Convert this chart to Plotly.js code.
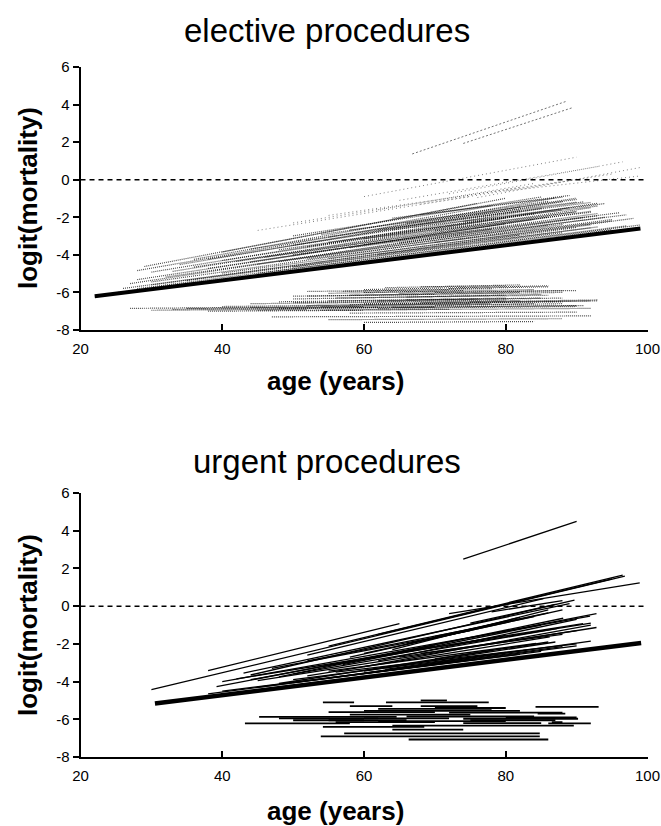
<!DOCTYPE html>
<html>
<head>
<meta charset="utf-8">
<script src="https://cdn.plot.ly/plotly-3.0.1.min.js"></script>
<style>html,body{margin:0;padding:0;background:#fff;}#chart{width:661px;height:826px;}</style>
</head>
<body>
<div id="chart"></div>
<script>
// ---------- axis ticks ----------
const ageTicks = [20, 40, 60, 80, 100];
const logitTicks = [-8, -6, -4, -2, 0, 2, 4, 6];

// ---------- ELECTIVE: reference (thick) line ----------
const eBaseAge = [22, 99];
const eBaseLogit = [-6.2, -2.6];

// ---------- ELECTIVE: upper fan of lines (start age, start logit, end age, end logit) ----------
const eUpA0 = [25, 28, 35, 26, 40, 30, 45, 32, 50, 28, 42, 36, 48, 30, 55, 38, 44, 28, 50, 29,
               45, 30, 52, 27, 60, 38, 46, 33, 55, 40, 62, 34, 58, 36, 64, 40,
               50, 55, 48, 58, 44, 60, 52, 64, 50, 66, 54, 68, 65, 62, 70, 70, 74];
const eUpY0 = [-6.01, -5.8, -5.37, -5.79, -4.97, -5.44, -4.49, -5.18, -3.99, -5.32, -4.35, -4.65, -3.73, -4.92, -3.05, -4.23, -3.69, -4.84, -2.99, -4.62,
               -4.98, -5.6, -4.22, -5.53, -3.45, -4.72, -4.12, -4.88, -3.33, -4.3, -2.65, -4.52, -2.68, -4.24, -2.05, -3.85,
               -4.65, -4.19, -4.36, -3.62, -4.37, -3.15, -3.56, -2.67, -3.49, -2.32, -2.92, -1.86, -3.36, -3.98, -3.34, -2.72, -2.24];
const eUpA1 = [95, 97, 92, 90, 98, 88, 94, 91, 93, 86, 90, 92, 89, 85, 91, 88, 90, 87, 85, 80,
               99, 82, 95, 78, 96, 84, 92, 80, 88, 93, 92, 82, 90, 78, 89, 76,
               88, 92, 86, 93, 80, 90, 84, 94, 82, 90, 86, 88, 97, 93, 95, 92, 93];
const eUpY1 = [-2.66, -2.46, -2.56, -2.54, -2.06, -2.38, -2.0, -2.01, -1.8, -1.98, -1.7, -1.49, -1.49, -1.53, -1.18, -1.17, -0.98, -0.97, -0.92, -0.99,
               -2.41, -2.94, -2.12, -2.63, -1.76, -2.12, -1.68, -2.04, -1.61, -1.25, -1.21, -1.45, -1.05, -1.39, -0.84, -1.26,
               -2.82, -2.4, -2.42, -1.92, -2.34, -1.7, -1.82, -1.27, -1.65, -1.2, -1.15, -0.93, -1.87, -2.51, -2.19, -1.73, -1.4];

// ---------- ELECTIVE: sparse faint lines above the band ----------
const eFaintA0 = [60, 72, 76, 65, 55, 50, 68, 80, 62, 45];
const eFaintY0 = [-0.9, -0.75, -0.95, -1.1, -1.9, -2.3, -1.3, -0.6, -1.6, -2.7];
const eFaintA1 = [90, 96.5, 99, 93, 88, 82, 95, 99, 84, 75];
const eFaintY1 = [1.2, 0.95, 0.65, 0.7, -0.1, -0.4, 0.3, 0.2, -0.2, -0.9];

// ---------- ELECTIVE: two highest lines ----------
const eTopA0 = [66.8, 74];
const eTopY0 = [1.37, 1.93];
const eTopA1 = [88.6, 89.3];
const eTopY1 = [4.18, 3.82];

// ---------- ELECTIVE: lower (nearly flat) lines ----------
const eLowA0 = [27, 33, 40, 44, 48, 50, 52, 55, 57, 60, 63, 48, 54, 58, 45, 62, 66, 55, 70, 47,
                55, 60, 38, 64, 50, 52, 68, 75, 30, 58, 50, 56, 60, 52, 65, 58, 62, 68, 44, 35,
                72, 54, 66, 70, 60];
const eLowY0 = [-6.85, -6.9, -6.75, -6.6, -6.5, -6.35, -6.2, -6.05, -5.95, -5.85, -5.75, -6.85, -6.95, -6.65, -6.95, -6.45, -6.25, -6.45, -6.0, -7.3,
                -7.45, -7.6, -7.0, -6.8, -6.2, -5.95, -5.7, -6.5, -6.95, -7.1, -6.55, -6.3, -6.6, -6.7, -6.05, -6.15, -6.85, -6.55, -6.8, -6.85,
                -5.8, -6.75, -6.4, -6.7, -6.0];
const eLowA1 = [60, 70, 75, 82, 85, 80, 88, 84, 78, 86, 82, 90, 92, 93, 72, 88, 85, 76, 90, 92,
                88, 84, 60, 91, 70, 72, 80, 93, 52, 90, 80, 86, 88, 78, 88, 82, 90, 92, 70, 62,
                86, 84, 80, 88, 74];
const eLowY1 = [-6.75, -6.8, -6.6, -6.45, -6.3, -6.15, -6.0, -5.85, -5.8, -5.65, -5.6, -6.7, -6.85, -6.45, -6.9, -6.3, -6.1, -6.35, -5.9, -7.25,
                -7.4, -7.55, -6.95, -6.7, -6.1, -5.85, -5.65, -6.4, -6.9, -7.05, -6.4, -6.15, -6.5, -6.6, -5.9, -6.0, -6.75, -6.45, -6.75, -6.8,
                -5.7, -6.6, -6.3, -6.6, -5.9];

// ---------- URGENT: reference (thick) line ----------
const uBaseAge = [30.5, 99.1];
const uBaseLogit = [-5.16, -1.95];

// ---------- URGENT: upper lines ----------
const uUpA0 = [30, 38, 72, 55, 62, 39.2, 43, 44, 52, 40, 42, 45, 48, 50, 52, 55, 50, 56, 58, 60,
               62, 64, 57, 60, 65, 66, 68, 70, 54, 47, 44, 52, 60, 72, 75, 78, 70, 63, 48, 74,
               40, 45, 50, 38, 55, 60];
const uUpY0 = [-4.43, -3.42, -0.4, -2.12, -1.5, -4.27, -3.55, -3.65, -2.6, -4.0, -3.85, -3.95, -3.75, -3.6, -3.7, -3.45, -3.9, -3.5, -2.7, -2.5,
               -2.9, -2.3, -3.1, -3.2, -2.7, -2.0, -2.5, -1.6, -3.2, -3.3, -3.9, -2.9, -3.45, -2.1, -0.9, -0.3, -2.8, -3.35, -4.1, 2.49,
               -4.5, -4.3, -4.05, -4.65, -3.8, -3.55];
const uUpA1 = [96.8, 65, 98.9, 96.5, 95, 92.8, 89, 89.7, 85.3, 91.9, 90.9, 92.8, 88.1, 87.2, 86.2, 84.3, 82.9, 90, 88, 84,
               90, 86, 85, 92, 90, 82, 88, 86, 80, 75, 70, 78, 87, 92, 87, 88, 86, 80, 78, 90,
               85, 90, 82, 75, 88, 92];
const uUpY1 = [1.6, -0.92, 1.24, 1.65, 1.45, -0.39, 0.14, 0.32, 0.4, -0.53, -0.92, -1.13, -0.64, -1.19, -1.63, -1.98, -2.33, -2.0, -0.2, -0.55,
               -0.7, -0.2, -1.0, -1.0, -1.3, -0.6, -1.5, -0.35, -1.55, -1.3, -2.1, -1.0, -1.9, -0.9, 0.1, 0.3, -1.9, -2.45, -2.35, 4.5,
               -2.4, -2.1, -2.55, -2.85, -2.15, -1.85];

// ---------- URGENT: lower (flat) lines ----------
const uLowA0 = [54.2, 63.1, 68, 45.2, 43.2, 84.2, 84.5, 86, 53.9, 57.2, 66.3, 54.2, 64, 74, 55, 58, 60, 62, 55, 60,
                66, 70, 72, 48, 56, 62, 75, 68, 58, 80, 74, 50, 64, 86.5];
const uLowY0 = [-5.1, -5.1, -5.0, -5.87, -6.22, -5.34, -5.7, -6.22, -6.9, -6.75, -7.07, -6.4, -6.33, -5.97, -5.62, -5.75, -5.55, -5.45, -6.05, -5.95,
                -5.85, -5.4, -5.65, -5.95, -6.15, -6.1, -6.05, -5.3, -5.3, -5.9, -6.2, -6.05, -6.55, -6.15];
const uLowA1 = [58.6, 77.6, 71.7, 64.6, 58, 93.1, 88.4, 92, 84.8, 84.8, 86, 68.5, 89.6, 90.2, 70, 75, 82, 78, 66, 72,
                84, 80, 88, 62, 70, 80, 87, 76, 64, 90, 85, 60, 74, 88];
const uLowY1 = [-5.1, -5.1, -5.0, -5.87, -6.22, -5.34, -5.7, -6.22, -6.9, -6.75, -7.07, -6.4, -6.33, -5.97, -5.62, -5.75, -5.55, -5.45, -6.05, -5.95,
                -5.85, -5.4, -5.65, -5.95, -6.15, -6.1, -6.05, -5.3, -5.3, -5.9, -6.2, -6.05, -6.55, -6.15];

// ---------- reference line at logit 0 ----------
const zeroAge = [20, 100];
const zeroLogit = [0, 0];

function segs(a0, y0, a1, y1) {
  const x = [], y = [];
  for (let i = 0; i < a0.length; i++) {
    x.push(a0[i], a1[i], null);
    y.push(y0[i], y1[i], null);
  }
  return {x, y};
}

function lineTrace(s, xa, ya, color, width, dash) {
  return {type: 'scatter', mode: 'lines', x: s.x, y: s.y, xaxis: xa, yaxis: ya,
          line: {color: color, width: width, dash: dash || 'solid'},
          hoverinfo: 'skip', showlegend: false, connectgaps: false};
}

const stipple = 'rgba(0,0,0,0.7)';
const traces = [
  lineTrace({x: zeroAge, y: zeroLogit}, 'x', 'y', '#000', 1.5, '5px,4px'),
  lineTrace(segs(eLowA0, eLowY0, eLowA1, eLowY1), 'x', 'y', stipple, 1.2, '1px,1px'),
  lineTrace(segs(eUpA0, eUpY0, eUpA1, eUpY1), 'x', 'y', stipple, 1.2, '1px,1px'),
  lineTrace(segs(eFaintA0, eFaintY0, eFaintA1, eFaintY1), 'x', 'y', 'rgba(0,0,0,0.5)', 1, '1px,3px'),
  lineTrace(segs(eTopA0, eTopY0, eTopA1, eTopY1), 'x', 'y', 'rgba(0,0,0,0.55)', 1, '2px,2px'),
  lineTrace({x: eBaseAge, y: eBaseLogit}, 'x', 'y', '#000', 4),

  lineTrace({x: zeroAge, y: zeroLogit}, 'x2', 'y2', '#000', 1.5, '5px,4px'),
  lineTrace(segs(uLowA0, uLowY0, uLowA1, uLowY1), 'x2', 'y2', '#000', 1.8),
  lineTrace(segs(uUpA0, uUpY0, uUpA1, uUpY1), 'x2', 'y2', '#000', 1.3),
  lineTrace({x: uBaseAge, y: uBaseLogit}, 'x2', 'y2', '#000', 4.5)
];

const tickFont = {family: 'Liberation Sans, Arial, sans-serif', size: 15, color: '#000'};
function xAx(anchor) {
  return {domain: [0.1218, 0.9796], range: [20, 100], anchor: anchor, tickvals: ageTicks,
          ticktext: ageTicks.map(String), showline: true, linewidth: 2, linecolor: '#000',
          ticks: 'inside', ticklen: 6, tickwidth: 2, tickcolor: '#000', showgrid: false,
          zeroline: false, tickfont: tickFont, ticklabelstandoff: 4, fixedrange: true};
}
function yAx(anchor, dom) {
  return {domain: dom, range: [-8, 6], anchor: anchor, tickvals: logitTicks,
          ticktext: logitTicks.map(String), showline: true, linewidth: 2, linecolor: '#000',
          ticks: 'outside', ticklen: 6, tickwidth: 2, tickcolor: '#000', showgrid: false,
          zeroline: false, tickfont: tickFont, fixedrange: true};
}

const H = 826;
function py(px) { return 1 - px / H; }
const titleFont = {family: 'Liberation Sans, Arial, sans-serif', size: 33, color: '#000'};
const axFont = {family: 'Liberation Sans, Arial, sans-serif', size: 26, color: '#000', weight: 'bold'};

const layout = {
  width: 661, height: 826, autosize: false,
  margin: {l: 0, r: 0, t: 0, b: 0},
  paper_bgcolor: '#fff', plot_bgcolor: '#fff',
  showlegend: false,
  xaxis: xAx('y'), yaxis: yAx('x', [0.6005, 0.9189]),
  xaxis2: xAx('y2'), yaxis2: yAx('x2', [0.0835, 0.4031]),
  annotations: [
    {text: 'elective procedures', xref: 'paper', yref: 'paper', x: 0.495, y: py(30), xanchor: 'center', yanchor: 'middle', showarrow: false, font: titleFont},
    {text: 'urgent procedures', xref: 'paper', yref: 'paper', x: 0.495, y: py(462), xanchor: 'center', yanchor: 'middle', showarrow: false, font: titleFont},
    {text: '<b>age (years)</b>', xref: 'paper', yref: 'paper', x: 0.508, y: py(381), xanchor: 'center', yanchor: 'middle', showarrow: false, font: axFont},
    {text: '<b>age (years)</b>', xref: 'paper', yref: 'paper', x: 0.508, y: py(811), xanchor: 'center', yanchor: 'middle', showarrow: false, font: axFont},
    {text: '<b>logit(mortality)</b>', xref: 'paper', yref: 'paper', x: 28 / 661, y: py(198), xanchor: 'center', yanchor: 'middle', textangle: -90, showarrow: false, font: axFont},
    {text: '<b>logit(mortality)</b>', xref: 'paper', yref: 'paper', x: 28 / 661, y: py(625), xanchor: 'center', yanchor: 'middle', textangle: -90, showarrow: false, font: axFont}
  ]
};

Plotly.newPlot('chart', traces, layout, {displayModeBar: false, staticPlot: true});
</script>
</body>
</html>
